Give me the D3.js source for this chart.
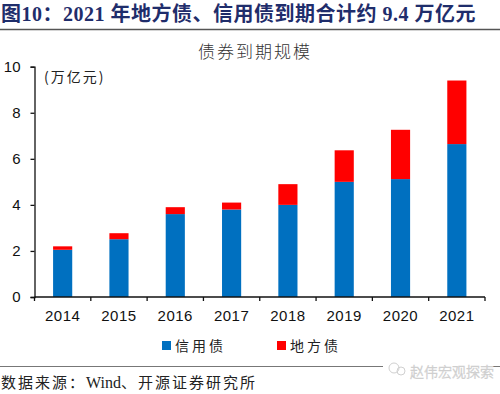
<!DOCTYPE html>
<html><head><meta charset="utf-8">
<script src="https://cdn.jsdelivr.net/npm/d3@7"></script>
<style>
html,body{margin:0;padding:0;background:#fff;}
svg{display:block;}
</style></head>
<body>
<svg id="c" width="500" height="394"></svg>
<script>
const years = ["2014","2015","2016","2017","2018","2019","2020","2021"];
const creditBond = [2.05, 2.51, 3.6, 3.8, 4.0, 5.0, 5.12, 6.64];
const localBond = [0.15, 0.26, 0.3, 0.3, 0.9, 1.37, 2.14, 2.76];
const yTicks = [0, 2, 4, 6, 8, 10];
const seriesNames = ["信用债", "地方债"];
const seriesColors = ["#0070C0", "#FF0000"];

const svg = d3.select("#c");
const sans = "'Liberation Sans', Arial, sans-serif";
const cjk = "'Noto Sans CJK SC', sans-serif";
const serifMix = "'Liberation Serif', 'Noto Sans CJK SC', serif";

// Header
svg.append("text").attr("x", 1).attr("y", 21)
  .attr("font-family", serifMix).attr("font-weight", "bold").attr("font-size", 20)
  .attr("letter-spacing", 0.5)
  .attr("fill", "#1F2D6B").text("图10：2021 年地方债、信用债到期合计约 9.4 万亿元");
svg.append("line").attr("x1", 0).attr("x2", 500).attr("y1", 29.5).attr("y2", 29.5)
  .attr("stroke", "#555").attr("stroke-width", 1.5);

// Chart title
svg.append("text").attr("x", 255).attr("y", 58).attr("text-anchor", "middle")
  .attr("font-family", cjk).attr("font-weight", 300).attr("font-size", 17).attr("letter-spacing", 2)
  .attr("fill", "#333").text("债券到期规模");

const x = d3.scaleBand().domain(years).range([34.5, 485]).padding(0);
const y = d3.scaleLinear().domain([0, 10]).range([297, 66.7]);
const barW = x.bandwidth() * 0.34;

const stacked = years.map((yr, i) => ({ year: yr, vals: [creditBond[i], localBond[i]] }));
stacked.forEach(d => {
  let base = 0;
  d.vals.forEach((v, k) => {
    svg.append("rect")
      .attr("x", x(d.year) + x.bandwidth() / 2 - barW / 2)
      .attr("width", barW)
      .attr("y", y(base + v))
      .attr("height", y(base) - y(base + v))
      .attr("fill", seriesColors[k]);
    base += v;
  });
});

// Y axis
const yAxis = svg.append("g").attr("transform", "translate(34.5,0)")
  .call(d3.axisLeft(y).tickValues(yTicks).tickSize(4).tickPadding(10).tickFormat(d3.format("d")));
yAxis.selectAll("text").attr("font-family", sans).attr("font-size", 15).attr("fill", "#111");
yAxis.selectAll("line,path").attr("stroke", "#111").attr("stroke-width", 1.3);

// X axis
const xg = svg.append("g");
xg.append("line").attr("x1", 34.5).attr("x2", 485).attr("y1", 297).attr("y2", 297)
  .attr("stroke", "#111").attr("stroke-width", 1.3);
const bounds = years.map(d => x(d)).concat([x.range()[1]]);
xg.selectAll("line.tk").data(bounds).join("line").attr("class", "tk")
  .attr("x1", d => d).attr("x2", d => d).attr("y1", 297).attr("y2", 301)
  .attr("stroke", "#111").attr("stroke-width", 1.3);
xg.selectAll("text").data(years).join("text")
  .attr("x", d => x(d) + x.bandwidth() / 2).attr("y", 321)
  .attr("text-anchor", "middle").attr("font-family", sans).attr("font-size", 15)
  .attr("letter-spacing", 0.5)
  .attr("fill", "#111").text(d => d);

// Unit label
svg.append("text").attr("x", 44).attr("y", 82)
  .attr("font-family", cjk).attr("font-size", 14).attr("letter-spacing", 2)
  .attr("fill", "#222").text("(万亿元)");

// Legend
const legX = [162, 277];
seriesNames.forEach((n, k) => {
  svg.append("rect").attr("x", legX[k]).attr("y", 341).attr("width", 9).attr("height", 9)
    .attr("fill", seriesColors[k]);
  svg.append("text").attr("x", legX[k] + 13).attr("y", 351)
    .attr("font-family", cjk).attr("font-size", 14).attr("letter-spacing", 3)
    .attr("fill", "#222").text(n);
});

// Footer
svg.append("line").attr("x1", 0).attr("x2", 500).attr("y1", 366.5).attr("y2", 366.5)
  .attr("stroke", "#777").attr("stroke-width", 1);
svg.append("rect").attr("x", 383).attr("y", 360).attr("width", 105).attr("height", 16).attr("fill", "#fff");
svg.append("circle").attr("cx", 394).attr("cy", 368).attr("r", 5)
  .attr("fill", "none").attr("stroke", "#d0d0d0").attr("stroke-width", 1);
svg.append("circle").attr("cx", 401).attr("cy", 371).attr("r", 4)
  .attr("fill", "none").attr("stroke", "#d0d0d0").attr("stroke-width", 1);
svg.append("text").attr("x", 410).attr("y", 377)
  .attr("font-family", cjk).attr("font-size", 14).attr("font-weight", 300).attr("fill", "#fff")
  .attr("stroke", "#cfcfcf").attr("stroke-width", 0.6).text("赵伟宏观探索");
const src = svg.append("text").attr("x", 1).attr("y", 388)
  .attr("font-family", serifMix).attr("font-size", 15).attr("fill", "#222");
src.append("tspan").attr("letter-spacing", 2).text("数据来源：");
src.append("tspan").attr("font-size", 16).text("Wind");
src.append("tspan").attr("letter-spacing", 2).text("、开源证券研究所");
</script>
</body></html>
